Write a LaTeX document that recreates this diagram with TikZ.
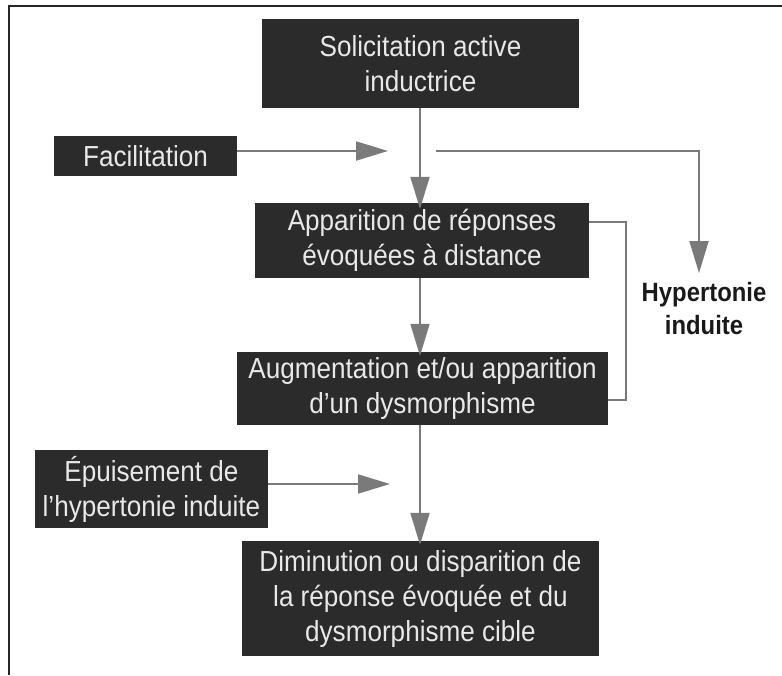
\documentclass[tikz,border=0pt]{standalone}
\usepackage{fontspec}
\setmainfont{Liberation Sans}[FakeStretch=0.9]
\usetikzlibrary{arrows.meta}
\definecolor{boxfill}{HTML}{2B2B2B}
\definecolor{boxtext}{HTML}{E8E8E8}
\definecolor{arrowgray}{HTML}{7A7A7A}
\tikzset{
  darkbox/.style={fill=boxfill, text=boxtext, draw=none, align=center, inner sep=0pt,
    font=\fontsize{29}{35}\selectfont},
  flow/.style={draw=arrowgray, line width=2pt, -{Triangle[length=32pt,width=19pt]}},
  loopline/.style={draw=arrowgray, line width=1.6pt},
  frame/.style={draw=black!85, line width=1.5pt}
}
\begin{document}
\begin{tikzpicture}[x=1pt,y=-1pt]
\useasboundingbox (0,0) rectangle (782,675);
\draw[frame] (9,675) -- (9,6) -- (782,6);
\node[darkbox, minimum width=317pt, minimum height=89pt] (b1) at (420.5,63.5) {Solicitation active\\inductrice};
\node[darkbox, minimum width=183pt, minimum height=40pt] (fac) at (145.5,156) {Facilitation};
\node[darkbox, minimum width=334pt, minimum height=75pt] (b2) at (422,240.5) {Apparition de réponses\\évoquées à distance};
\node[darkbox, minimum width=371pt, minimum height=73pt] (b3) at (422.5,388.5) {Augmentation et/ou apparition\\d’un dysmorphisme};
\node[darkbox, minimum width=233pt, minimum height=78pt] (ep) at (151.5,489) {Épuisement de\\l’hypertonie induite};
\node[darkbox, minimum width=357pt, minimum height=115pt] (b4) at (420.5,598.5) {Diminution ou disparition de\\la réponse évoquée et du\\dysmorphisme cible};
\node[align=center, text=black!90, inner sep=0pt, font=\fontsize{26.5}{33}\selectfont\bfseries] (hyp) at (704,309) {Hypertonie\\induite};
\coordinate (sp) at (420,0);
\coordinate (fa) at (388,151);
\coordinate (ha) at (436,151);
\coordinate (hc) at (699,151);
\coordinate (ht) at (699,273);
\coordinate (ea) at (390,484);
\coordinate (la) at (0,222);
\coordinate (lb) at (0,400);
\coordinate (lx) at (626,0);
% main spine
\draw[flow] (b1.south -| sp) -- ([yshift=-6pt]b2.north -| sp);
\draw[flow] (b2.south -| sp) -- ([yshift=-4pt]b3.north -| sp);
\draw[flow] (b3.south -| sp) -- ([yshift=-4pt]b4.north -| sp);
% side inputs
\draw[flow] (fac.east |- fa) -- (fa);
\draw[flow] (ep.east |- ea) -- (ea);
% to Hypertonie
\draw[flow] (ha) -- (hc) -- (ht);
% feedback loop
\draw[loopline] (b2.east |- la) -- (lx |- la) -- (lx |- lb) -- (b3.east |- lb);
\end{tikzpicture}
\end{document}
